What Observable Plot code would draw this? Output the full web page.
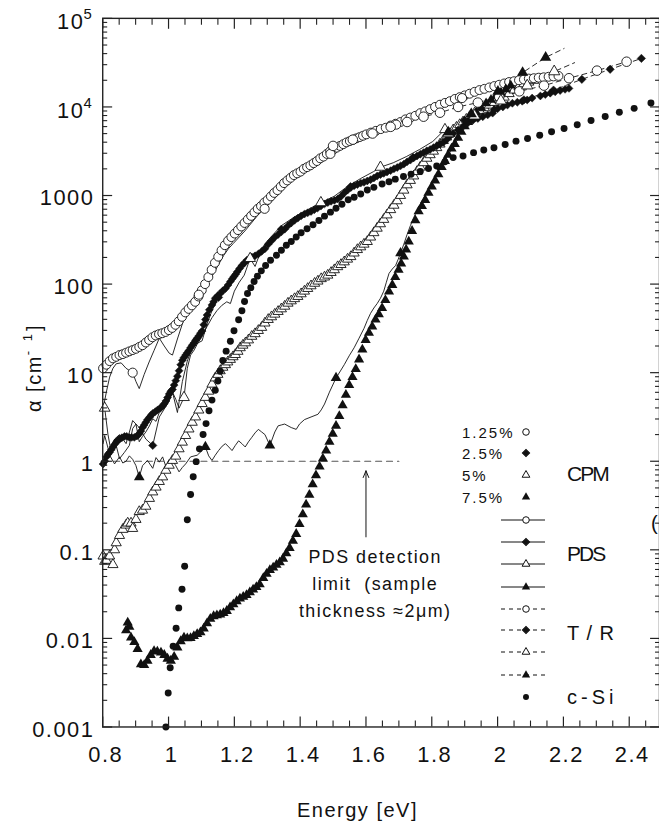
<!DOCTYPE html>
<html><head><meta charset="utf-8">
<script src="https://cdn.jsdelivr.net/npm/d3@7"></script>
<script src="https://cdn.jsdelivr.net/npm/@observablehq/plot@0.6"></script>
<style>
html,body{margin:0;padding:0;background:#fff;overflow:hidden;}
#wrap{position:relative;width:659px;height:825px;overflow:hidden;background:#fff;}
#wrap svg{position:absolute;left:0;top:0;}
</style></head><body><div id="wrap"></div>
<script>
// ---------------- DATA (energy [eV], alpha [cm^-1]) ----------------
const cpm125 = [[0.801,11.2],[0.811,12.3],[0.821,13.5],[0.831,14.5],[0.841,15.1],[0.851,15.8],[0.861,16.2],[0.871,16.8],[0.881,17.4],[0.891,18.0],[0.901,18.6],[0.911,19.5],[0.921,20.4],[0.931,21.9],[0.941,23.4],[0.951,25.1],[0.961,26.3],[0.971,27.2],[0.981,27.9],[0.991,28.8],[1.001,30.2],[1.011,32.0],[1.021,34.7],[1.031,38.0],[1.041,42.7],[1.051,47.9],[1.061,52.5],[1.071,57.5],[1.081,63.1],[1.091,72.4],[1.101,85.1],[1.111,100],[1.121,120],[1.131,145],[1.141,174],[1.151,204],[1.161,240],[1.171,275],[1.181,309],[1.191,339],[1.201,372],[1.211,407],[1.221,447],[1.231,490],[1.241,537],[1.251,589],[1.261,646],[1.271,708],[1.281,759],[1.291,832],[1.301,891],[1.311,977],[1.321,1070],[1.331,1150],[1.341,1260],[1.351,1380],[1.361,1480],[1.371,1585],[1.381,1700],[1.391,1780],[1.401,1860],[1.411,2000],[1.421,2090],[1.431,2190],[1.441,2320],[1.451,2450],[1.461,2630],[1.471,2750],[1.481,2950],[1.491,3160],[1.501,3310],[1.511,3470],[1.521,3630],[1.531,3800],[1.541,3980],[1.551,4120],[1.561,4270],[1.571,4420],[1.581,4570],[1.591,4730],[1.601,4900],[1.615,5130],[1.630,5370],[1.645,5620],[1.660,5820],[1.675,6170],[1.690,6460],[1.705,6760],[1.720,7240],[1.735,7590],[1.750,7940],[1.765,8510],[1.780,8910],[1.795,9440],[1.810,10000],[1.825,10600],[1.840,11100],[1.855,11600],[1.870,12300],[1.885,12900],[1.900,13500],[1.915,14100],[1.930,14800],[1.945,15500],[1.960,16000],[1.975,16600],[1.990,17200],[2.005,17800],[2.020,18400],[2.035,19100],[2.050,19500],[2.065,20000],[2.080,20400],[2.095,20900],[2.110,21100],[2.125,21400],[2.140,21600],[2.155,21900],[2.170,22100],[2.185,22400]];

const cpm25 = [[0.801,0.93],[0.806,1.0],[0.811,1.12],[0.816,1.20],[0.821,1.26],[0.826,1.35],[0.831,1.45],[0.836,1.55],[0.841,1.64],[0.846,1.72],[0.851,1.78],[0.858,1.84],[0.866,1.91],[0.873,1.91],[0.881,1.86],[0.888,1.86],[0.896,1.86],[0.904,1.93],[0.911,2.04],[0.916,2.19],[0.921,2.40],[0.926,2.57],[0.931,2.75],[0.936,2.95],[0.942,3.13],[0.947,3.31],[0.952,3.47],[0.960,3.63],[0.967,3.80],[0.975,3.98],[0.982,4.22],[0.987,4.47],[0.992,4.79],[0.997,5.25],[1.002,5.75],[1.007,6.17],[1.012,6.46],[1.017,7.24],[1.022,8.13],[1.027,9.12],[1.032,10.5],[1.037,12.3],[1.042,13.8],[1.047,14.8],[1.052,15.8],[1.057,16.8],[1.062,17.8],[1.067,19.1],[1.072,20.4],[1.077,21.6],[1.082,23.2],[1.087,24.5],[1.092,26.0],[1.097,27.9],[1.102,29.5],[1.107,34.7],[1.112,39.8],[1.117,44.7],[1.124,51.3],[1.132,58.2],[1.137,63.1],[1.142,69.2],[1.150,74.1],[1.157,78.5],[1.165,84.1],[1.173,89.1],[1.181,97.7],[1.188,107],[1.194,115],[1.199,122],[1.204,129],[1.209,138],[1.216,150],[1.223,162],[1.231,174],[1.238,186],[1.246,195],[1.253,202],[1.263,209],[1.273,219],[1.283,234],[1.293,251],[1.303,282],[1.313,309],[1.323,339],[1.333,363],[1.343,389],[1.353,417],[1.363,457],[1.373,490],[1.383,525],[1.393,556],[1.403,589],[1.413,617],[1.423,638],[1.433,661],[1.443,692],[1.453,724],[1.463,759],[1.474,804],[1.484,832],[1.494,861],[1.504,881],[1.514,912],[1.524,977],[1.534,1070],[1.544,1150],[1.554,1230],[1.564,1290],[1.574,1330],[1.584,1380],[1.594,1410],[1.604,1460],[1.614,1510],[1.624,1580],[1.634,1660],[1.644,1720],[1.654,1780],[1.664,1840],[1.675,1910],[1.685,2000],[1.695,2070],[1.705,2160],[1.715,2260],[1.725,2400],[1.735,2510],[1.745,2660],[1.755,2790],[1.765,2920],[1.775,3050],[1.785,3200],[1.795,3310],[1.805,3470],[1.815,3630],[1.825,3800],[1.835,3980],[1.845,4270],[1.855,4680],[1.865,5010],[1.880,5500],[1.895,6030],[1.910,6610],[1.925,7080],[1.940,7410],[1.955,7760],[1.970,8130],[1.985,8510],[2.000,9550],[2.016,10000],[2.030,10500],[2.045,11000],[2.060,11300],[2.075,11600],[2.090,12000],[2.105,12600],[2.130,13300],[2.145,13800],[2.160,14300],[2.175,14800],[2.190,15300],[2.205,15800],[2.217,16200]];

const cpm5 = [[0.801,0.085],[0.806,0.074],[0.811,0.076],[0.821,0.085],[0.831,0.068],[0.836,0.10],[0.841,0.12],[0.851,0.145],[0.861,0.17],[0.871,0.19],[0.876,0.20],[0.886,0.20],[0.891,0.174],[0.901,0.22],[0.911,0.27],[0.921,0.28],[0.931,0.31],[0.942,0.38],[0.952,0.45],[0.962,0.51],[0.972,0.59],[0.982,0.665],[0.992,0.79],[1.002,0.90],[1.012,1.02],[1.022,1.14],[1.032,1.38],[1.042,1.64],[1.052,1.95],[1.062,2.31],[1.072,2.75],[1.082,3.16],[1.092,3.78],[1.102,4.47],[1.112,5.25],[1.122,6.17],[1.132,7.41],[1.142,8.71],[1.150,9.55],[1.157,10.5],[1.165,11.5],[1.173,12.3],[1.180,13.2],[1.188,14.1],[1.196,15.1],[1.203,16.0],[1.211,17.4],[1.218,19.1],[1.226,20.4],[1.234,21.7],[1.243,23.4],[1.253,25.7],[1.263,27.5],[1.273,29.9],[1.283,32.4],[1.293,36.3],[1.303,39.8],[1.313,42.7],[1.323,45.7],[1.333,49.0],[1.343,52.5],[1.353,56.2],[1.363,60.8],[1.373,64.6],[1.383,68.4],[1.393,72.4],[1.403,77.6],[1.413,83.2],[1.423,89.1],[1.433,95.5],[1.444,102],[1.454,108],[1.464,115],[1.474,120],[1.484,126],[1.494,135],[1.504,145],[1.514,157],[1.524,166],[1.534,178],[1.544,191],[1.554,204],[1.564,224],[1.574,245],[1.584,263],[1.594,282],[1.604,302],[1.614,339],[1.624,380],[1.634,427],[1.644,479],[1.654,537],[1.664,603],[1.675,692],[1.685,776],[1.695,871],[1.705,1000],[1.715,1148],[1.725,1318],[1.735,1479],[1.745,1660],[1.755,1862],[1.765,2089],[1.775,2344],[1.785,2630],[1.795,2884],[1.805,3162],[1.815,3467],[1.825,3802],[1.835,4169],[1.845,4571],[1.855,5012],[1.865,5495],[1.875,5888],[1.885,6310],[1.895,6761],[1.905,7244],[1.915,7762],[1.930,8511],[1.945,9120],[1.960,9772],[1.975,10470],[1.990,11220],[2.005,12020],[2.020,12880],[2.035,14130],[2.050,15490],[2.065,16980],[2.080,18200],[2.095,19050],[2.110,19950]];

const cpm75 = [[0.871,0.0123],[0.876,0.0151],[0.881,0.0135],[0.886,0.0102],[0.896,0.0091],[0.906,0.0076],[0.916,0.0051],[0.926,0.0050],[0.936,0.0056],[0.946,0.0065],[0.956,0.0072],[0.966,0.0071],[0.977,0.0069],[0.987,0.0065],[0.997,0.0059],[1.007,0.0056],[1.017,0.0062],[1.027,0.0079],[1.037,0.0093],[1.047,0.0102],[1.057,0.0100],[1.067,0.0101],[1.077,0.0106],[1.087,0.0112],[1.097,0.0117],[1.107,0.0129],[1.117,0.0148],[1.127,0.0166],[1.137,0.0178],[1.147,0.0182],[1.157,0.0186],[1.167,0.0193],[1.177,0.0204],[1.187,0.0224],[1.197,0.0243],[1.207,0.0263],[1.217,0.0282],[1.227,0.0295],[1.237,0.0309],[1.247,0.0331],[1.257,0.0355],[1.267,0.0380],[1.277,0.0407],[1.288,0.0479],[1.298,0.0537],[1.308,0.0589],[1.318,0.0630],[1.328,0.0676],[1.338,0.0724],[1.348,0.0794],[1.358,0.0912],[1.368,0.105],[1.378,0.126],[1.388,0.151],[1.398,0.195],[1.408,0.251],[1.418,0.324],[1.428,0.417],[1.438,0.550],[1.448,0.692],[1.459,0.871],[1.469,1.07],[1.479,1.32],[1.489,1.66],[1.499,2.04],[1.509,2.51],[1.519,3.24],[1.529,4.27],[1.539,5.62],[1.549,7.24],[1.559,8.91],[1.569,11.0],[1.579,14.1],[1.589,18.2],[1.599,23.4],[1.609,28.2],[1.619,33.1],[1.629,39.8],[1.639,45.7],[1.649,53.7],[1.659,66.1],[1.670,82.2],[1.680,97.7],[1.689,120],[1.699,145],[1.707,170],[1.715,204],[1.722,245],[1.730,302],[1.740,398],[1.750,525],[1.760,661],[1.770,759],[1.780,891],[1.790,1072],[1.800,1259],[1.810,1479],[1.820,1738],[1.830,2089],[1.840,2455],[1.850,2884],[1.860,3388],[1.870,3802],[1.880,4467],[1.890,5248],[1.900,6026],[1.910,6761],[1.920,7413],[1.935,8710],[1.950,9772],[1.965,10960],[1.980,12020],[1.995,13180],[2.010,14450],[2.025,15850],[2.040,17380]];

const pds125 = [[0.801,3.89],[0.811,6.03],[0.821,8.91],[0.831,11.2],[0.841,12.6],[0.856,12.9],[0.871,11.2],[0.891,10.0],[0.901,7.94],[0.911,6.61],[0.926,9.55],[0.941,13.2],[0.956,17.8],[0.972,24.5],[0.987,20.0],[1.002,16.6],[1.012,15.8],[1.027,24.0],[1.042,35.5],[1.052,49.0],[1.067,60.3],[1.082,69.2],[1.092,75.9],[1.107,87.1],[1.122,105],[1.137,132],[1.152,166],[1.167,209],[1.182,251],[1.197,288],[1.212,331],[1.232,398],[1.252,490],[1.272,603],[1.292,708],[1.312,851],[1.332,1023],[1.352,1230],[1.372,1445],[1.392,1622],[1.412,1820],[1.432,2042],[1.452,2291],[1.472,2570],[1.492,2951],[1.512,3311],[1.532,3631],[1.552,3981],[1.572,4266],[1.592,4571],[1.612,4898],[1.632,5129],[1.652,5495],[1.672,5888],[1.692,6310],[1.712,6761],[1.732,7244],[1.752,7762],[1.772,8318],[1.792,8913],[1.812,9550],[1.832,10230],[1.852,10960],[1.872,11750],[1.892,12590]];
const pds125Marks = [[0.891,10.0],[1.092,75.9],[1.292,708],[1.492,2951],[1.692,6310],[1.892,12590]];

const pds25 = [[0.801,1.58],[0.806,1.95],[0.821,1.20],[0.836,1.78],[0.851,2.00],[0.871,1.58],[0.891,2.88],[0.911,2.40],[0.931,1.78],[0.952,1.51],[0.972,3.16],[0.992,4.17],[1.012,6.03],[1.027,3.55],[1.042,7.94],[1.057,13.5],[1.072,19.1],[1.087,21.4],[1.102,22.9],[1.117,35.5],[1.132,50.1],[1.152,70.8],[1.173,89.1],[1.193,110],[1.213,138],[1.233,174],[1.253,204],[1.273,229],[1.293,269],[1.313,324],[1.343,417],[1.373,513],[1.403,617],[1.433,692],[1.463,794],[1.493,891],[1.523,1023],[1.553,1259],[1.583,1413],[1.613,1549],[1.643,1738],[1.673,1950],[1.703,2188],[1.743,2692],[1.783,3236],[1.823,3890],[1.853,4677]];
const pds25Marks = [[0.952,1.51],[1.152,70.8],[1.343,417],[1.553,1259],[1.743,2692]];

const pds5 = [[0.806,3.98],[0.816,2.00],[0.826,1.26],[0.836,1.78],[0.851,1.07],[0.866,1.26],[0.881,1.51],[0.891,2.34],[0.901,2.63],[0.911,1.66],[0.921,1.91],[0.931,2.14],[0.942,2.51],[0.952,3.02],[0.962,2.82],[0.972,3.55],[0.982,3.80],[0.992,4.17],[1.002,4.79],[1.012,6.03],[1.022,5.01],[1.032,3.98],[1.047,5.25],[1.057,11.2],[1.067,15.8],[1.077,17.8],[1.087,20.9],[1.097,24.0],[1.107,28.2],[1.117,33.1],[1.132,41.7],[1.147,50.1],[1.162,57.5],[1.177,63.1],[1.188,60.3],[1.200,83.2],[1.215,105],[1.230,126],[1.248,195],[1.263,158],[1.283,251],[1.303,316],[1.343,457],[1.383,575],[1.423,692],[1.463,832],[1.503,977],[1.543,1259],[1.583,1549],[1.623,1862],[1.644,2089],[1.683,2344],[1.723,2754],[1.763,3311],[1.803,4074],[1.840,5559]];
const pds5Marks = [[0.806,3.98],[1.047,5.25],[1.248,195],[1.463,832],[1.644,2089],[1.840,5559]];

const pds75 = [[0.801,0.933],[0.811,1.17],[0.821,1.17],[0.836,0.933],[0.851,1.12],[0.861,0.955],[0.871,1.0],[0.881,1.15],[0.891,1.05],[0.901,0.891],[0.911,0.661],[0.921,0.891],[0.936,1.02],[0.952,0.832],[0.962,1.10],[0.972,0.977],[0.982,1.12],[0.992,0.871],[1.002,0.955],[1.012,1.02],[1.022,0.891],[1.032,0.759],[1.042,0.851],[1.052,0.933],[1.067,1.12],[1.087,1.17],[1.102,1.32],[1.112,1.45],[1.122,1.15],[1.132,1.02],[1.142,1.17],[1.152,1.32],[1.163,1.48],[1.173,1.58],[1.183,1.45],[1.193,1.32],[1.203,1.51],[1.213,1.70],[1.223,1.58],[1.233,1.45],[1.243,1.66],[1.253,1.86],[1.263,2.09],[1.273,2.29],[1.283,2.14],[1.293,2.00],[1.308,1.51],[1.323,2.14],[1.333,2.51],[1.343,2.57],[1.353,2.63],[1.363,2.51],[1.373,2.40],[1.388,2.29],[1.398,2.63],[1.413,2.95],[1.433,3.16],[1.454,3.39],[1.464,3.80],[1.474,4.42],[1.489,6.03],[1.509,8.71],[1.524,10.7],[1.534,12.3],[1.549,15.5],[1.564,19.1],[1.579,24.5],[1.594,31.6],[1.604,38.9],[1.614,46.8],[1.624,53.7],[1.634,60.3],[1.644,69.2],[1.654,83.2],[1.662,105],[1.670,132],[1.680,148],[1.690,162],[1.698,191],[1.705,224],[1.715,282],[1.725,363],[1.735,457],[1.745,562],[1.755,676],[1.765,794],[1.780,1000],[1.800,1349],[1.820,1862],[1.840,2512],[1.860,3311],[1.880,4365]];
const pds75Marks = [[0.911,0.661],[1.112,1.45],[1.308,1.51],[1.509,8.71],[1.705,224]];

const tr125 = [[1.500,3630],[1.560,4270],[1.620,5010],[1.675,5960],[1.725,6760],[1.775,7760],[1.825,8610],[1.880,10000],[1.940,11200],[2.005,13000],[2.066,15000],[2.141,17400],[2.217,21100],[2.302,25700],[2.392,32400]];
const tr25 = [[1.900,7080],[1.990,9330],[2.080,12020],[2.170,15490],[2.256,20500],[2.342,26600],[2.437,35300]];
const tr5 = [[1.850,5010],[1.930,7940],[2.010,11750],[2.090,17380],[2.172,25100],[2.234,31600]];
const tr5Marks = [[1.850,5010],[1.930,7940],[2.010,11750],[2.090,17380],[2.172,25100]];
const tr75 = [[1.850,5190],[1.920,8340],[2.001,14900],[2.076,24400],[2.146,36200],[2.202,45700]];
const tr75Marks = [[1.850,5190],[1.920,8340],[2.001,14900],[2.076,24400],[2.146,36200]];

const cSi = [[0.992,0.001],[0.999,0.00242],[1.005,0.00467],[1.014,0.00815],[1.023,0.0130],[1.031,0.0221],[1.041,0.0358],[1.049,0.0653],[1.057,0.218],[1.067,0.422],[1.075,0.667],[1.084,0.99],[1.094,1.38],[1.105,2.0],[1.114,2.66],[1.123,3.72],[1.132,4.90],[1.142,6.34],[1.150,8.07],[1.157,10.4],[1.165,13.7],[1.175,17.5],[1.188,22.6],[1.199,29.8],[1.213,39.5],[1.223,49.9],[1.231,63.5],[1.240,78.2],[1.250,91.2],[1.260,107],[1.270,123],[1.282,141],[1.295,162],[1.310,186],[1.328,212],[1.343,241],[1.358,274],[1.373,303],[1.388,340],[1.403,380],[1.421,422],[1.439,467],[1.457,522],[1.474,585],[1.492,649],[1.509,718],[1.527,796],[1.546,897],[1.564,955],[1.584,1040],[1.604,1153],[1.624,1236],[1.649,1346],[1.670,1429],[1.689,1531],[1.714,1641],[1.737,1742],[1.765,1866],[1.790,2018],[1.815,2158],[1.840,2399],[1.865,2679],[1.895,2793],[1.927,3048],[1.958,3258],[1.989,3467],[2.023,3776],[2.056,4111],[2.091,4406],[2.128,4797],[2.164,5236],[2.202,5702],[2.242,6281],[2.284,7015],[2.327,7780],[2.370,8690],[2.415,9638],[2.466,11066]];

const detectionLimit = [[0.8,1],[1.7,1]];
const limitArrow = [[1.6,0.14,1.6,0.78]];
const limitNote = [[1.628,0.044,"PDS detection\nlimit  (sample\nthickness \u22482\u03bcm)"]];

const xLabelVals = [0.8,1.0,1.2,1.4,1.6,1.8,2.0,2.2,2.4];
const xLabelText = ["0.8","1","1.2","1.4","1.6","1.8","2","2.2","2.4"];
const yPlainVals = [1000,100,10,1,0.1,0.01,0.001];
const yPlainText = ["1000","100","10","1","0.1","0.01","0.001"];
const yPowVals = [1e5,1e4];
const yPowExp = ["5","4"];

const cpmLabels = ["1.25%","2.5%","5%","7.5%"];
const groupLabels = ["CPM","PDS","T / R","c-Si"];

// ---------------- CHART ----------------
const FONT = "'Liberation Sans', Arial, Helvetica, sans-serif";
const X = d => d[0], Y = d => d[1];
const xMajor = d3.range(0.8, 2.45, 0.2).map(v => +v.toFixed(2));
const xMinor = d3.range(0.85, 2.49, 0.05).map(v => +v.toFixed(2)).filter(v => !xMajor.some(m => Math.abs(m - v) < 1e-6));
const yMajor = d3.range(-3, 6).map(p => Math.pow(10, p));
const yMinor = [];
for (let p = -3; p < 5; p++) for (let k = 2; k <= 9; k++) yMinor.push(k * Math.pow(10, p));

const ink = "#111";
const chart = Plot.plot({
  width: 664, height: 825,
  marginLeft: 103, marginRight: 0, marginTop: 18, marginBottom: 93,
  x: {domain: [0.8, 2.492], axis: null},
  y: {type: "log", domain: [0.001, 1e5], axis: null},
  style: {fontFamily: FONT, fontSize: "22px", letterSpacing: "1.5px", color: ink, background: "white", overflow: "visible"},
  marks: [
    // detection limit + annotation
    Plot.line(detectionLimit, {x: X, y: Y, stroke: "#555", strokeWidth: 1.2, strokeDasharray: "6,5"}),
    Plot.arrow(limitArrow, {x1: d => d[0], y1: d => d[1], x2: d => d[2], y2: d => d[3], stroke: ink, strokeWidth: 1, headLength: 11, headAngle: 45}),
    Plot.text(limitNote, {x: X, y: Y, text: d => d[2], fontSize: 18, lineHeight: 1.5, textAnchor: "middle", fill: ink}),
    // PDS lines
    Plot.line(pds125, {x: X, y: Y, stroke: ink, strokeWidth: 0.9}),
    Plot.line(pds25, {x: X, y: Y, stroke: ink, strokeWidth: 0.9}),
    Plot.line(pds5, {x: X, y: Y, stroke: ink, strokeWidth: 0.9}),
    Plot.line(pds75, {x: X, y: Y, stroke: ink, strokeWidth: 0.9}),
    // T/R lines
    Plot.line(tr125, {x: X, y: Y, stroke: ink, strokeWidth: 0.9, strokeDasharray: "5,4"}),
    Plot.line(tr25, {x: X, y: Y, stroke: ink, strokeWidth: 0.9, strokeDasharray: "5,4"}),
    Plot.line(tr5, {x: X, y: Y, stroke: ink, strokeWidth: 0.9, strokeDasharray: "5,4"}),
    Plot.line(tr75, {x: X, y: Y, stroke: ink, strokeWidth: 0.9, strokeDasharray: "5,4"}),
    // CPM markers
    Plot.dot(cpm5, {x: X, y: Y, symbol: "triangle", r: 3.8, fill: "white", stroke: ink, strokeWidth: 0.9}),
    Plot.dot(cpm125, {x: X, y: Y, symbol: "circle", r: 4.5, fill: "white", stroke: ink, strokeWidth: 0.9}),
    Plot.dot(cpm25, {x: X, y: Y, symbol: "diamond2", r: 3.6, fill: ink, stroke: ink, strokeWidth: 0.5}),
    Plot.dot(cpm75, {x: X, y: Y, symbol: "triangle", r: 3.8, fill: ink, stroke: "none"}),
    // PDS markers
    Plot.dot(pds125Marks, {x: X, y: Y, symbol: "circle", r: 4.6, fill: "white", stroke: ink, strokeWidth: 0.9}),
    Plot.dot(pds25Marks, {x: X, y: Y, symbol: "diamond2", r: 3.8, fill: ink, stroke: ink, strokeWidth: 0.5}),
    Plot.dot(pds5Marks, {x: X, y: Y, symbol: "triangle", r: 4.0, fill: "white", stroke: ink, strokeWidth: 0.9}),
    Plot.dot(pds75Marks, {x: X, y: Y, symbol: "triangle", r: 4.0, fill: ink, stroke: "none"}),
    // T/R markers
    Plot.dot(tr125, {x: X, y: Y, symbol: "circle", r: 4.8, fill: "white", stroke: ink, strokeWidth: 0.9}),
    Plot.dot(tr25, {x: X, y: Y, symbol: "diamond2", r: 3.8, fill: ink, stroke: ink, strokeWidth: 0.5}),
    Plot.dot(tr5Marks, {x: X, y: Y, symbol: "triangle", r: 4.2, fill: "white", stroke: ink, strokeWidth: 0.9}),
    Plot.dot(tr75Marks, {x: X, y: Y, symbol: "triangle", r: 4.2, fill: ink, stroke: "none"}),
    // c-Si
    Plot.dot(cSi, {x: X, y: Y, r: 3.5, fill: ink, stroke: "none"}),
    // frame + inward ticks
    Plot.frame({stroke: "#222", strokeWidth: 1.4}),
    Plot.axisX(xMajor, {anchor: "bottom", tickSize: -10, fill: "none", stroke: "#222", strokeWidth: 1.2}),
    Plot.axisX(xMinor, {anchor: "bottom", tickSize: -6, fill: "none", stroke: "#222", strokeWidth: 1.1}),
    Plot.axisX(xMajor, {anchor: "top", tickSize: -10, fill: "none", stroke: "#222", strokeWidth: 1.2}),
    Plot.axisX(xMinor, {anchor: "top", tickSize: -6, fill: "none", stroke: "#222", strokeWidth: 1.1}),
    Plot.axisY(yMajor, {anchor: "left", tickSize: -10, fill: "none", stroke: "#222", strokeWidth: 1.2}),
    Plot.axisY(yMinor, {anchor: "left", tickSize: -5, fill: "none", stroke: "#222", strokeWidth: 1.1}),
    Plot.axisY(yMajor, {anchor: "right", tickSize: -10, fill: "none", stroke: "#222", strokeWidth: 1.2}),
    Plot.axisY(yMinor, {anchor: "right", tickSize: -5, fill: "none", stroke: "#222", strokeWidth: 1.1}),
    // tick labels
    Plot.text(xLabelVals, {x: d => d, text: (d, i) => xLabelText[i], frameAnchor: "bottom", dy: 28, dx: 3, lineAnchor: "middle", fill: ink}),
    Plot.text(yPlainVals, {y: d => d, text: (d, i) => yPlainText[i], frameAnchor: "left", textAnchor: "end", dx: -8.5, dy: 3, lineAnchor: "middle", fill: ink}),
    Plot.text(yPowVals, {y: d => d, text: () => "10", frameAnchor: "left", textAnchor: "end", dx: -18.5, dy: 4, lineAnchor: "middle", fill: ink}),
    Plot.text(yPowVals, {y: d => d, text: (d, i) => yPowExp[i], frameAnchor: "left", textAnchor: "end", dx: -9.5, dy: -4, lineAnchor: "middle", fontSize: 15, fill: ink})
  ]
});
const wrap = document.getElementById("wrap");
wrap.appendChild(chart);

// ---------------- OVERLAY: axis titles + legend ----------------
const ov = d3.select(wrap).append("svg")
  .attr("width", 659).attr("height", 825)
  .style("font-family", FONT).style("pointer-events", "none");

ov.append("text").attr("x", 297).attr("y", 817).attr("font-size", 20)
  .attr("letter-spacing", "1.5px").attr("fill", ink).text("Energy [eV]");

const yt = ov.append("text").attr("transform", "translate(41,368) rotate(-90)")
  .attr("text-anchor", "middle").attr("font-size", 20).attr("letter-spacing", "1.5px").attr("fill", ink);
yt.append("tspan").text("\u03b1 [cm");
yt.append("tspan").attr("dy", -9).attr("font-size", 13).attr("letter-spacing", "3px").text("- 1");
yt.append("tspan").attr("dy", 9).text("]");

// partially visible glyph at the right edge of the original figure
ov.append("text").attr("x", 651).attr("y", 530).attr("font-size", 20).attr("fill", ink).text("(");

function symbolAt(g, kind, x, y, scale) {
  const s = scale || 1;
  let type, size, fill, stroke = ink, rot = 0;
  if (kind === "circleOpen") { type = d3.symbolCircle; size = 34 * s; fill = "white"; }
  else if (kind === "diamond") { type = d3.symbolSquare; size = 26 * s; fill = ink; rot = 45; }
  else if (kind === "triangleOpen") { type = d3.symbolTriangle; size = 26 * s; fill = "white"; }
  else if (kind === "triangleFilled") { type = d3.symbolTriangle; size = 30 * s; fill = ink; stroke = "none"; }
  else { type = d3.symbolCircle; size = 28 * s; fill = ink; stroke = "none"; }
  g.append("path").attr("d", d3.symbol().type(type).size(size)())
    .attr("transform", `translate(${x},${y}) rotate(${rot})`)
    .attr("fill", fill).attr("stroke", stroke).attr("stroke-width", 1);
}

const kinds = ["circleOpen", "diamond", "triangleOpen", "triangleFilled"];
const lg = ov.append("g");
const cpmRows = [432, 453, 475, 497];
cpmLabels.forEach((t, i) => {
  lg.append("text").attr("x", 462).attr("y", cpmRows[i] + 5.5).attr("font-size", 15)
    .attr("letter-spacing", "2px").attr("fill", ink).text(t);
  symbolAt(lg, kinds[i], 526, cpmRows[i], 1);
});
const pdsRows = [520, 542, 564, 587];
const trRows = [609, 630, 652, 675];
pdsRows.forEach((y, i) => {
  lg.append("line").attr("x1", 501).attr("x2", 545).attr("y1", y).attr("y2", y).attr("stroke", ink).attr("stroke-width", 1);
  symbolAt(lg, kinds[i], 526, y, 1);
});
trRows.forEach((y, i) => {
  lg.append("line").attr("x1", 501).attr("x2", 545).attr("y1", y).attr("y2", y).attr("stroke", ink)
    .attr("stroke-width", 1).attr("stroke-dasharray", "4,4");
  symbolAt(lg, kinds[i], 526, y, 1);
});
symbolAt(lg, "dot", 526, 697, 1);

lg.append("text").attr("x", 567).attr("y", 480.5).attr("font-size", 21).attr("letter-spacing", "-2px").attr("fill", ink).text(groupLabels[0]);
lg.append("text").attr("x", 567).attr("y", 560.5).attr("font-size", 21).attr("letter-spacing", "-2px").attr("fill", ink).text(groupLabels[1]);
lg.append("text").attr("x", 567).attr("y", 640).attr("font-size", 20).attr("letter-spacing", "1px").attr("fill", ink).text(groupLabels[2]);
lg.append("text").attr("x", 567).attr("y", 704).attr("font-size", 20).attr("letter-spacing", "4px").attr("fill", ink).text(groupLabels[3]);
</script></body></html>
